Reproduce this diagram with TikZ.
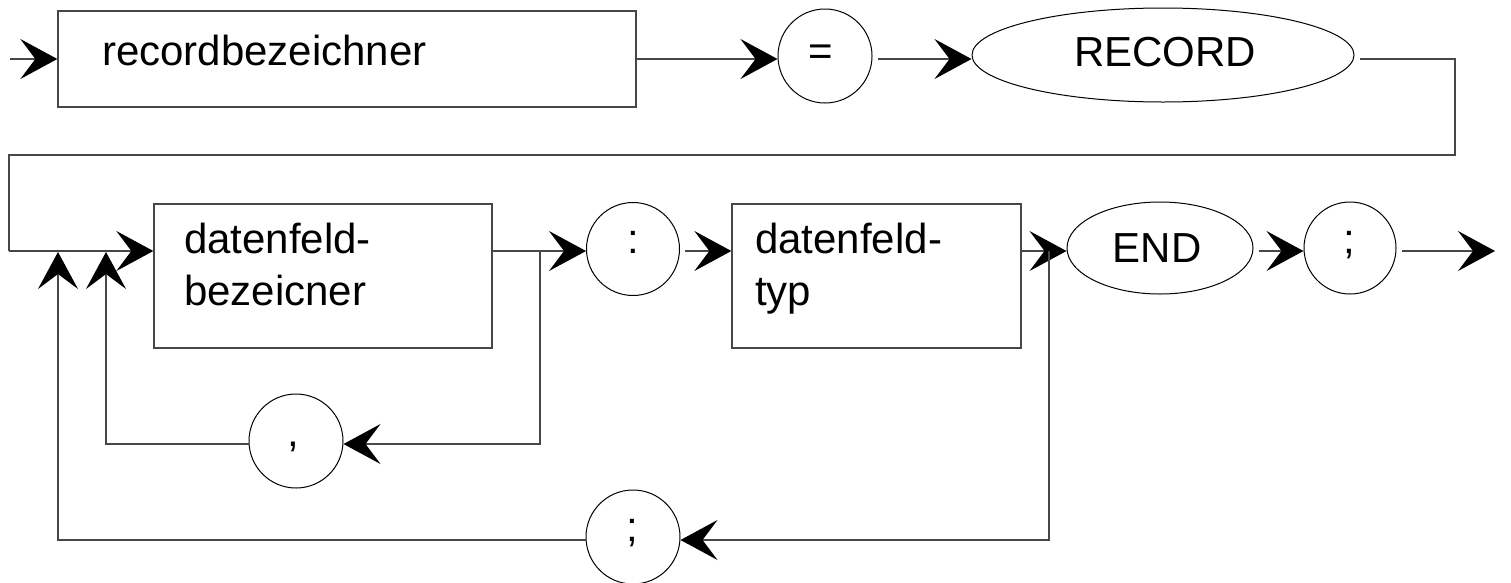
\documentclass[tikz,border=0pt]{standalone}
\usepackage{fontspec}
\setmainfont{Liberation Sans}
\usetikzlibrary{arrows.meta,shapes.geometric}
\tikzset{
  x=1pt,y=-1pt,
  conn/.style={line width=1.3pt,draw=black!72,-{Stealth[length=37pt 0 0,width=40pt 0 0,inset=15pt 0 0,fill=black,color=black]}},
  plain/.style={line width=1.3pt,draw=black!72},
  boxnode/.style={draw=black!72,line width=1.3pt,rectangle,inner sep=0pt},
  roundnode/.style={draw=black,line width=1pt,circle,inner sep=0pt,minimum size=93pt},
  ovalnode/.style={draw=black,line width=1pt,ellipse,inner sep=0pt},
  lbl/.style={font=\fontsize{42}{52}\selectfont,inner sep=0pt,anchor=base},
  lblw/.style={lbl,anchor=base west},
  gap/.style={shorten <=5pt}
}
\begin{document}
\begin{tikzpicture}
\useasboundingbox (0,0) rectangle (1511,582);
% row coordinates
\coordinate (r1) at (0,59);
\coordinate (r2) at (0,251);
\coordinate (r3) at (0,444);
\coordinate (r4) at (0,540);
% shapes
\node[boxnode,minimum width=578pt,minimum height=96pt] (rb) at (347,59) {};
\node[roundnode,minimum size=94pt] (eq) at (825,56) {};
\node[ovalnode,minimum width=382pt,minimum height=94pt] (rec) at (1163,55) {};
\node[boxnode,minimum width=338pt,minimum height=144pt] (db) at (323,276) {};
\node[roundnode] (colon) at (633,249) {};
\node[boxnode,minimum width=289pt,minimum height=144pt] (dt) at (876.5,276) {};
\node[ovalnode,minimum width=186pt,minimum height=92pt] (endn) at (1160,248) {};
\node[roundnode,minimum size=92pt] (semiA) at (1350,248) {};
\node[roundnode,minimum size=94pt] (comma) at (296,441) {};
\node[roundnode,minimum size=94pt] (semiB) at (633,537) {};
% texts
\node[lblw] (trb) at (102,65) {recordbezeichner};
\node[lbl] (teq) at (821,65) {=};
\node[lbl] (trec) at (1165,66) {RECORD};
\node[lblw] (tdb1) at (184,253) {datenfeld-};
\node[lblw] (tdb2) at (184,305) {bezeicner};
\node[lbl] (tcolon) at (633,253) {:};
\node[lblw] (tdt1) at (755,253) {datenfeld-};
\node[lblw] (tdt2) at (755,305) {typ};
\node[lbl] (tend) at (1157,262) {END};
\node[lbl] (tsemiA) at (1349,253) {;};
\node[lbl] (tcomma) at (293,446) {,};
\node[lbl] (tsemiB) at (632,541) {;};
% junction and free-end coordinates
\coordinate (start) at (10,59);
\coordinate (turnR) at (1455,59);
\coordinate (turnRd) at (1455,155);
\coordinate (turnL) at (9,155);
\coordinate (turnLd) at (9,251);
\coordinate (j1) at (540,251);
\coordinate (j1d) at (540,444);
\coordinate (j2) at (1049,251);
\coordinate (j2d) at (1049,540);
\coordinate (up1) at (106,444);
\coordinate (up1t) at (106,252);
\coordinate (up2) at (58,540);
\coordinate (up2t) at (58,252);
\coordinate (exit) at (1495,251);
% row 1
\draw[conn] (start) -- (rb.west |- r1);
\draw[conn] (rb.east |- r1) -- (eq.west |- r1);
\draw[conn,gap] (eq.east |- r1) -- (rec.west |- r1);
\draw[plain,gap] (rec.east |- r1) -- (turnR) -- (turnRd) -- (turnL) -- (turnLd);
% row 2
\draw[conn] (turnLd) -- (db.west |- r2);
\draw[conn] (db.east |- r2) -- (colon.west |- r2);
\draw[conn,gap] (colon.east |- r2) -- (dt.west |- r2);
\draw[conn] (dt.east |- r2) -- (endn.west |- r2);
\draw[conn,gap] (endn.east |- r2) -- (semiA.west |- r2);
\draw[conn,gap] (semiA.east |- r2) -- (exit);
% comma loop
\draw[conn] (j1) -- (j1d) -- (comma.east |- r3);
\draw[conn] (comma.west |- r3) -- (up1) -- (up1t);
% semicolon loop
\draw[conn] (j2) -- (j2d) -- (semiB.east |- r4);
\draw[conn] (semiB.west |- r4) -- (up2) -- (up2t);
\end{tikzpicture}
\end{document}
